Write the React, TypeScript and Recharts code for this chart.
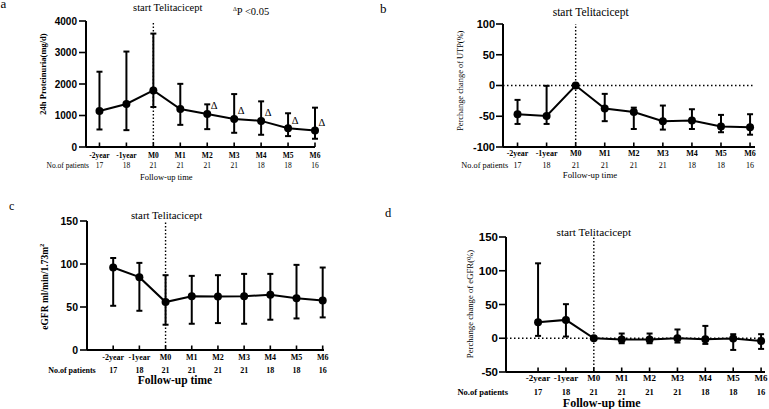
import React from 'react';
import {
  LineChart,
  Line,
  XAxis,
  YAxis,
  ErrorBar,
  ReferenceLine,
  LabelList,
  Customized,
} from 'recharts';

const SERIF = '"Times New Roman", "Liberation Serif", serif';
const SANS = 'Arial, "Liberation Sans", sans-serif';

// Follow-up time points and patient numbers at each visit
const timePoints = ['-2year', '-1year', 'M0', 'M1', 'M2', 'M3', 'M4', 'M5', 'M6'];
const patientCounts = [17, 18, 21, 21, 21, 21, 18, 18, 16];

// 24h proteinuria (mg/d): mean with lower / upper bar ends
const proteinuriaMean = [1145, 1365, 1795, 1205, 1050, 892, 829, 598, 525];
const proteinuriaLow = [556, 535, 1270, 703, 567, 451, 388, 346, 262];
const proteinuriaHigh = [2390, 3030, 3600, 2005, 1354, 1680, 1449, 1071, 1249];
const proteinuriaSig = ['', '', '', '', 'Δ', 'Δ', 'Δ', 'Δ', 'Δ'];

// Percentage change of UTP (%)
const utpChangeMean = [-46.7, -49.5, 0, -37.5, -43, -58, -57, -66.8, -68];
const utpChangeLow = [-62.5, -62.5, 0, -58, -70.7, -71.7, -70.7, -76, -80];
const utpChangeHigh = [-23.4, -0.5, 0, -13.6, -36, -32.6, -38.6, -47.8, -46.7];

// eGFR (ml/min/1.73m2)
const egfrMean = [95.9, 84.7, 55.7, 62.6, 62.3, 62.6, 64.2, 60.3, 57.6];
const egfrLow = [51.4, 45.6, 29.4, 30.5, 31.3, 30.5, 35.2, 36.7, 37.9];
const egfrHigh = [107, 101.3, 87, 86.2, 87, 88.5, 88.5, 99, 95.9];

// Percentage change of eGFR (%)
const egfrChangeMean = [23.8, 27.2, 0, -2, -2, 0, -1.5, -0.5, -4];
const egfrChangeLow = [3.5, 2.5, 0, -7.4, -7.4, -6.4, -8.4, -17.3, -15.8];
const egfrChangeHigh = [111, 50.5, 0, 7, 7, 13, 18.3, 6, 6];

const xTicks = timePoints.map((_, i) => i);

type Row = { i: number; mean: number; err: [number, number]; sig: string };

const buildRows = (mean: number[], low: number[], high: number[], sig?: string[]): Row[] =>
  mean.map((m, i) => ({
    i,
    mean: m,
    err: [m - low[i], high[i] - m],
    sig: sig ? sig[i] : '',
  }));

type PanelConfig = {
  box: { left: number; top: number; width: number; height: number };
  margin: { top: number; right: number; bottom: number; left: number };
  yWidth: number;
  xHeight: number;
  xDomain: [number, number];
  yDomain: [number, number];
  yTicks: number[];
  yTickFont: number;
  yTickSize: number;
  yTickMargin: number;
  tickLabelSize: number;
  labelDy: number;
  countSize: number;
  countDy: number;
  countBold: boolean;
  yTitle: React.ReactNode;
  yTitleX: number;
  yTitleY: number;
  yTitleSize: number;
  yTitleBold: boolean;
  startDx: number;
  startY: number;
  startSize: number;
  followX: number;
  followY: number;
  followSize: number;
  followBold: boolean;
  patientsX: number;
  patientsY: number;
  patientsSize: number;
  patientsBold: boolean;
  letter: string;
  letterX: number;
  letterY: number;
  letterSize: number;
  zeroLine: boolean;
  rows: Row[];
  note?: boolean;
};

const XTick = (props: any) => {
  const { x, y, payload, cfg } = props;
  const i = payload.value as number;
  return (
    <g>
      <line x1={x} x2={x} y1={y} y2={y - 4.5} stroke="#000" strokeWidth={1.6} />
      <text
        x={x}
        y={y + cfg.labelDy}
        textAnchor="middle"
        fontFamily={SERIF}
        fontWeight={700}
        fontSize={cfg.tickLabelSize}
        fill="#000"
      >
        {timePoints[i]}
      </text>
      <text
        x={x}
        y={y + cfg.countDy}
        textAnchor="middle"
        fontFamily={SERIF}
        fontWeight={cfg.countBold ? 700 : 400}
        fontSize={cfg.countSize}
        fill="#000"
      >
        {patientCounts[i]}
      </text>
    </g>
  );
};

const DeltaMark = (props: any) => {
  const { x, y, value } = props;
  if (!value) return null;
  return (
    <text x={x + 7} y={y - 4.5} textAnchor="middle" fontFamily={SERIF} fontSize={10.5} fill="#000">
      {value}
    </text>
  );
};

const Panel = ({ cfg }: { cfg: PanelConfig }) => {
  const overlay = () => (
    <g>
      <text x={cfg.letterX} y={cfg.letterY} fontFamily={SERIF} fontSize={cfg.letterSize} fill="#000">
        {cfg.letter}
      </text>
      <text
        x={cfg.yTitleX}
        y={cfg.yTitleY}
        transform={`rotate(-90 ${cfg.yTitleX} ${cfg.yTitleY})`}
        textAnchor="middle"
        fontFamily={SERIF}
        fontWeight={cfg.yTitleBold ? 700 : 400}
        fontSize={cfg.yTitleSize}
        fill="#000"
      >
        {cfg.yTitle}
      </text>
      <text
        x={cfg.patientsX}
        y={cfg.patientsY}
        textAnchor="end"
        fontFamily={SERIF}
        fontWeight={cfg.patientsBold ? 700 : 400}
        fontSize={cfg.patientsSize}
        fill="#000"
      >
        No.of patients
      </text>
      <text
        x={cfg.followX}
        y={cfg.followY}
        textAnchor="middle"
        fontFamily={SERIF}
        fontWeight={cfg.followBold ? 700 : 400}
        fontSize={cfg.followSize}
        fill="#000"
      >
        Follow-up time
      </text>
      {cfg.note && (
        <text x={233} y={14.5} fontFamily={SERIF} fontSize={10.5} fill="#000">
          <tspan fontSize={6} dy={-4}>Δ</tspan>
          <tspan dy={4}>P &lt;0.05</tspan>
        </text>
      )}
    </g>
  );

  return (
    <div style={{ position: 'absolute', left: cfg.box.left, top: cfg.box.top }}>
      <LineChart width={cfg.box.width} height={cfg.box.height} data={cfg.rows} margin={cfg.margin}>
        <XAxis
          type="number"
          dataKey="i"
          domain={cfg.xDomain}
          ticks={xTicks}
          interval={0}
          height={cfg.xHeight}
          tickLine={false}
          tickSize={0}
          tickMargin={0}
          axisLine={{ stroke: '#000', strokeWidth: 2 }}
          tick={(p: any) => <XTick {...p} cfg={cfg} />}
        />
        <YAxis
          type="number"
          domain={cfg.yDomain}
          ticks={cfg.yTicks}
          interval={0}
          width={cfg.yWidth}
          tickSize={cfg.yTickSize}
          tickMargin={cfg.yTickMargin}
          axisLine={{ stroke: '#000', strokeWidth: 2 }}
          tickLine={{ stroke: '#000', strokeWidth: 1.6 }}
          tick={{ fill: '#000', fontSize: cfg.yTickFont, fontFamily: SANS, fontWeight: 700 }}
        />
        {cfg.zeroLine && (
          <ReferenceLine y={0} stroke="#000" strokeWidth={1.4} strokeDasharray="1.5 2.5" />
        )}
        <ReferenceLine
          x={2}
          stroke="#000"
          strokeWidth={1.4}
          strokeDasharray="1.5 2"
          label={(p: any) => (
            <text
              x={(p.viewBox?.x ?? 0) + cfg.startDx}
              y={cfg.startY}
              textAnchor="middle"
              fontFamily={SERIF}
              fontSize={cfg.startSize}
              fill="#000"
            >
              start Telitacicept
            </text>
          )}
        />
        <Line
          type="linear"
          dataKey="mean"
          stroke="#000"
          strokeWidth={2}
          dot={{ r: 4, fill: '#000', stroke: '#000', strokeWidth: 0 }}
          isAnimationActive={false}
        >
          <ErrorBar dataKey="err" direction="y" width={3} stroke="#000" strokeWidth={2} />
          {cfg.note && <LabelList dataKey="sig" content={DeltaMark} />}
        </Line>
        <Customized component={overlay} />
      </LineChart>
    </div>
  );
};

const panelA: PanelConfig = {
  box: { left: 0, top: 0, width: 380, height: 200 },
  margin: { top: 21, right: 65, bottom: 13, left: 0 },
  yWidth: 86,
  xHeight: 40,
  xDomain: [-0.5, 8],
  yDomain: [0, 4000],
  yTicks: [0, 1000, 2000, 3000, 4000],
  yTickFont: 10,
  yTickSize: 7,
  yTickMargin: 2,
  tickLabelSize: 7.5,
  labelDy: 10.5,
  countSize: 7.5,
  countDy: 20.5,
  countBold: false,
  yTitle: '24h Proteinuria(mg/d)',
  yTitleX: 46,
  yTitleY: 74,
  yTitleSize: 8.5,
  yTitleBold: true,
  startDx: 14.4,
  startY: 10.5,
  startSize: 10.5,
  followX: 166.3,
  followY: 179.5,
  followSize: 8.5,
  followBold: false,
  patientsX: 89,
  patientsY: 167.6,
  patientsSize: 7.5,
  patientsBold: false,
  letter: 'a',
  letterX: 0.5,
  letterY: 8,
  letterSize: 13,
  zeroLine: false,
  rows: buildRows(proteinuriaMean, proteinuriaLow, proteinuriaHigh, proteinuriaSig),
  note: true,
};

const panelB: PanelConfig = {
  box: { left: 380, top: 0, width: 389, height: 200 },
  margin: { top: 24, right: 14, bottom: 13, left: 0 },
  yWidth: 123,
  xHeight: 40,
  xDomain: [-0.5, 8.17],
  yDomain: [-100, 100],
  yTicks: [-100, -50, 0, 50, 100],
  yTickFont: 11,
  yTickSize: 7,
  yTickMargin: 1,
  tickLabelSize: 8,
  labelDy: 9,
  countSize: 8,
  countDy: 21,
  countBold: false,
  yTitle: 'Perchange change of UTP(%)',
  yTitleX: 83,
  yTitleY: 80.7,
  yTitleSize: 8.4,
  yTitleBold: false,
  startDx: 15,
  startY: 16,
  startSize: 11.5,
  followX: 210,
  followY: 178,
  followSize: 8.8,
  followBold: false,
  patientsX: 128.3,
  patientsY: 168,
  patientsSize: 8.3,
  patientsBold: false,
  letter: 'b',
  letterX: 0,
  letterY: 12.5,
  letterSize: 13,
  zeroLine: true,
  rows: buildRows(utpChangeMean, utpChangeLow, utpChangeHigh),
};

const panelC: PanelConfig = {
  box: { left: 0, top: 200, width: 380, height: 209 },
  margin: { top: 21, right: 56, bottom: 14, left: 0 },
  yWidth: 87,
  xHeight: 45,
  xDomain: [-1, 8.05],
  yDomain: [0, 150],
  yTicks: [0, 50, 100, 150],
  yTickFont: 10.5,
  yTickSize: 7,
  yTickMargin: 2,
  tickLabelSize: 8,
  labelDy: 9.5,
  countSize: 8,
  countDy: 23,
  countBold: true,
  yTitle: (
    <>
      eGFR ml/min/1.73m
      <tspan fontSize={6.5} dy={-4}>
        2
      </tspan>
    </>
  ),
  yTitleX: 48.3,
  yTitleY: 86.7,
  yTitleSize: 9.5,
  yTitleBold: true,
  startDx: 1,
  startY: 18.7,
  startSize: 10.8,
  followX: 175,
  followY: 184,
  followSize: 11.5,
  followBold: true,
  patientsX: 95.7,
  patientsY: 173,
  patientsSize: 8,
  patientsBold: true,
  letter: 'c',
  letterX: 9,
  letterY: 9.5,
  letterSize: 12,
  zeroLine: false,
  rows: buildRows(egfrMean, egfrLow, egfrHigh),
};

const panelD: PanelConfig = {
  box: { left: 380, top: 200, width: 389, height: 209 },
  margin: { top: 37, right: 4, bottom: 1, left: 0 },
  yWidth: 126,
  xHeight: 36,
  xDomain: [-1.15, 8.14],
  yDomain: [-50, 150],
  yTicks: [-50, 0, 50, 100, 150],
  yTickFont: 11.5,
  yTickSize: 7,
  yTickMargin: 1,
  tickLabelSize: 9,
  labelDy: 9,
  countSize: 8.5,
  countDy: 23,
  countBold: true,
  yTitle: 'Perchange change of eGFR(%)',
  yTitleX: 93,
  yTitleY: 104,
  yTitleSize: 8.7,
  yTitleBold: false,
  startDx: 0,
  startY: 35.7,
  startSize: 11.3,
  followX: 221.7,
  followY: 206.5,
  followSize: 12,
  followBold: true,
  patientsX: 128,
  patientsY: 195,
  patientsSize: 8.5,
  patientsBold: true,
  letter: 'd',
  letterX: 5,
  letterY: 17.3,
  letterSize: 12.5,
  zeroLine: true,
  rows: buildRows(egfrChangeMean, egfrChangeLow, egfrChangeHigh),
};

export default function App() {
  return (
    <div
      style={{
        position: 'absolute',
        left: 0,
        top: 0,
        width: 769,
        height: 409,
        background: '#fff',
        overflow: 'hidden',
      }}
    >
      <Panel cfg={panelA} />
      <Panel cfg={panelB} />
      <Panel cfg={panelC} />
      <Panel cfg={panelD} />
    </div>
  );
}
